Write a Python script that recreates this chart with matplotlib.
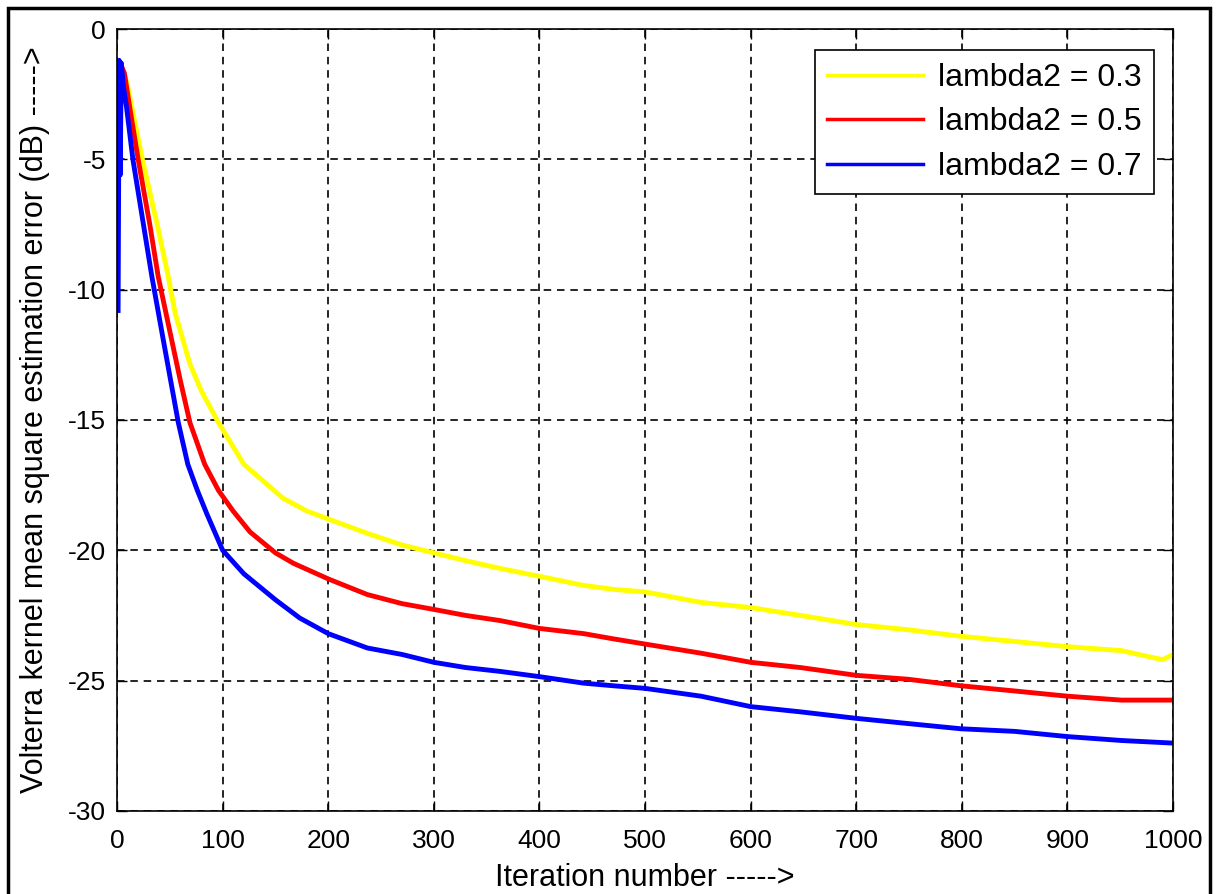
import matplotlib
matplotlib.use('Agg')
import matplotlib.pyplot as plt
from matplotlib.patches import Rectangle

plt.rcParams['font.family'] = ['Liberation Sans', 'DejaVu Sans']
plt.rcParams['axes.unicode_minus'] = False

# values (iteration, dB)
iter_03 = [2, 5, 9, 15, 24, 38, 48, 55, 69, 80, 96, 120, 140, 157, 180, 200, 237, 270, 300,
           330, 363, 400, 442, 470, 500, 553, 600, 647, 700, 749, 799, 850, 900, 951, 990, 1000]
mse_03 = [-1.4, -1.6, -2.0, -3.2, -5.0, -7.5, -9.4, -10.9, -12.85, -13.9, -15.1, -16.7, -17.4,
          -18.0, -18.5, -18.8, -19.35, -19.8, -20.1, -20.4, -20.7, -21.0, -21.35, -21.5, -21.6,
          -22.0, -22.2, -22.5, -22.85, -23.05, -23.3, -23.5, -23.7, -23.85, -24.2, -24.0]

iter_05 = [2, 4, 7, 12, 20, 31, 39, 50, 60, 69, 83, 96, 110, 126, 150, 167, 200, 237, 270, 300,
           330, 363, 400, 442, 470, 500, 553, 600, 647, 700, 749, 799, 850, 900, 951, 1000]
mse_05 = [-1.3, -1.4, -1.7, -3.0, -5.0, -7.5, -9.5, -11.6, -13.5, -15.1, -16.7, -17.7, -18.5,
          -19.3, -20.1, -20.5, -21.1, -21.7, -22.05, -22.27, -22.5, -22.7, -23.0, -23.2, -23.4,
          -23.6, -23.95, -24.3, -24.5, -24.8, -24.95, -25.2, -25.4, -25.6, -25.75, -25.75]

iter_07 = [1, 2, 3, 4, 6, 9, 15, 25, 33, 45, 58, 67, 76, 85, 100, 120, 150, 173, 200, 237, 270,
           300, 330, 363, 400, 442, 470, 500, 553, 600, 647, 700, 749, 799, 850, 900, 951, 1000]
mse_07 = [-10.8, -1.2, -5.6, -1.3, -2.2, -3.0, -5.0, -7.5, -9.5, -12.2, -15.1, -16.7, -17.7,
          -18.6, -20.0, -20.9, -21.9, -22.6, -23.2, -23.75, -24.0, -24.3, -24.5, -24.65, -24.85,
          -25.1, -25.2, -25.3, -25.6, -26.0, -26.2, -26.45, -26.65, -26.85, -26.95, -27.15,
          -27.3, -27.4]

labels = ['lambda2 = 0.3', 'lambda2 = 0.5', 'lambda2 = 0.7']
colors = ['#ffff00', '#ff0000', '#0000ff']

fig = plt.figure(figsize=(12.23, 8.94), dpi=100)
ax = fig.add_axes([0.0957, 0.093, 0.8635, 0.8745])

ax.plot(iter_03, mse_03, color=colors[0], lw=3.5, label=labels[0])
ax.plot(iter_05, mse_05, color=colors[1], lw=3.5, label=labels[1])
ax.plot(iter_07, mse_07, color=colors[2], lw=3.5, label=labels[2])

ax.set_xlim(0, 1000)
ax.set_ylim(-30, 0)
ax.set_xticks(range(0, 1001, 100))
ax.set_yticks(range(-30, 1, 5))
ax.tick_params(direction='in', length=7, width=1, top=True, right=True,
               labelsize=19, colors='black')
ax.tick_params(axis='x', pad=13)
ax.tick_params(axis='y', pad=8)
ax.grid(True, color='black', linestyle=(0, (4.5, 3.5)), linewidth=1.2)
for s in ax.spines.values():
    s.set_linewidth(1.2)
    s.set_color('black')

ax.set_xlabel('Iteration number ----->', fontsize=22, labelpad=7)
ax.set_ylabel('Volterra kernel mean square estimation error (dB) ----->', fontsize=22,
              labelpad=13)

leg = ax.legend(loc='upper right', bbox_to_anchor=(0.982, 0.973), fontsize=23,
                fancybox=False, framealpha=1, edgecolor='black', handlelength=3.0,
                borderpad=0.4, labelspacing=0.45, handletextpad=0.45, borderaxespad=0)
leg.get_frame().set_linewidth(1.2)
for ln in leg.get_lines():
    ln.set_linewidth(2.5)

# black frame around the whole picture (open at the bottom)
fig.patches.append(Rectangle((0.0065, -0.05), 0.983, 1.041, transform=fig.transFigure,
                             fill=False, edgecolor='black', lw=2.5, clip_on=False))

fig.savefig('out.png', dpi=100)
